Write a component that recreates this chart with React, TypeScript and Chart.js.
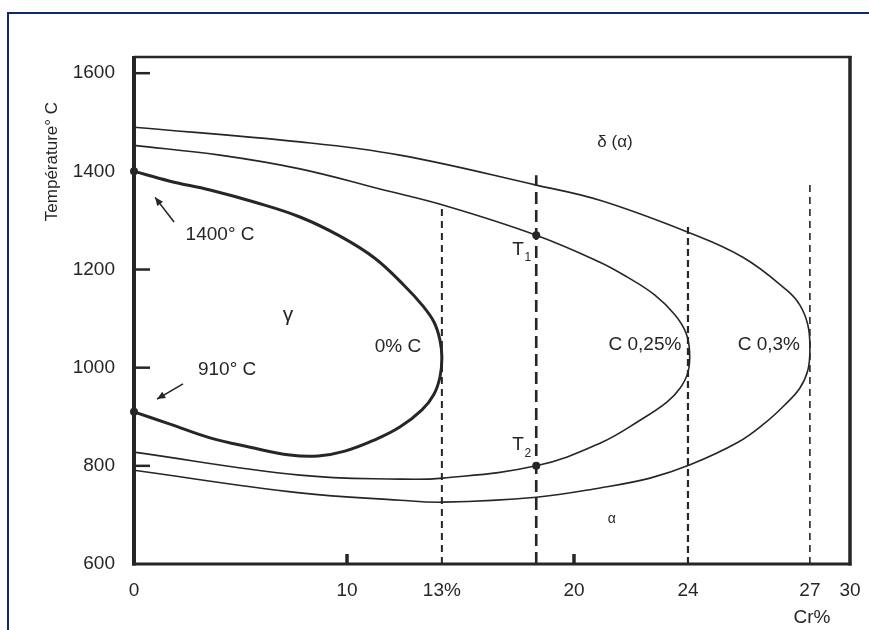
import React, { useEffect, useRef } from 'react';
import { Chart, LinearScale, registerables } from 'chart.js';

Chart.register(...registerables);

// ---- axis ticks -------------------------------------------------------------
// The Cr axis of this schematic is not to scale: labelled compositions are
// spaced by hand, so the scale below maps values piecewise between them.
const CR_TICKS = [0, 10, 13, 20, 24, 27, 30];
const CR_TICK_LABELS = ['0', '10', '13%', '20', '24', '27', '30'];
const TEMP_TICKS = [600, 800, 1000, 1200, 1400, 1600];
const TEMP_MARKED_TICKS = [800, 1000, 1200, 1600];
const CR_MARKED_TICKS = [10, 20];

// ---- phase boundaries (Cr %, temperature °C) --------------------------------
// gamma loop of pure Fe-Cr (0 % C): upper branch, nose at 13 % Cr, lower branch
const LOOP_0C_CR = [0, 1.69, 3.57, 5.68, 7.79, 9.67, 10.88, 11.83, 12.37, 12.75, 12.94, 13, 12.94, 12.75, 12.37, 11.67, 10.88, 9.9, 8.64, 7.32, 5.45, 3.57, 1.69, 0];
const LOOP_0C_T = [1400, 1380, 1362, 1337, 1307, 1268, 1223, 1166, 1128, 1093, 1056, 1020, 981, 946, 914, 879, 853, 830, 820, 822, 838, 857, 885, 910];

// 0.25 % C: nose at 24 % Cr
const LOOP_025C_CR = [0, 4.04, 7.79, 11.04, 13.27, 18, 20.91, 21.86, 22.84, 23.54, 23.93, 24.04, 24, 23.72, 23.26, 22.32, 20.91, 18, 13.05, 11.67, 7.79, 0];
const LOOP_025C_T = [1453, 1433, 1405, 1364, 1329, 1270, 1215, 1185, 1148, 1108, 1071, 1032, 991, 958, 930, 893, 846, 800, 775, 773, 781, 828];

// 0.3 % C: nose at 27 % Cr
const LOOP_03C_CR = [0, 7.79, 11.67, 18, 20.91, 24, 25.35, 26.43, 26.75, 26.95, 27, 26.95, 26.75, 26.38, 25.89, 25.23, 24.05, 22.67, 20.91, 18, 13.05, 11.67, 7.79, 0];
const LOOP_03C_T = [1490, 1460, 1433, 1372, 1341, 1276, 1225, 1158, 1128, 1087, 1040, 995, 958, 924, 887, 848, 802, 775, 755, 736, 726, 730, 745, 791];

// vertical composition lines: Cr % and the temperature where each starts
const GUIDE_CR = [13, 18, 24, 27];
const GUIDE_TOP_T = [1327, 1392, 1294, 1376];

// marked points: 1400 °C and 910 °C on pure iron, T1 and T2 at 18 % Cr
const POINT_CR = [0, 0, 18, 18];
const POINT_T = [1400, 910, 1270, 800];

const INK = '#262626';
const FONT = '"Liberation Sans", Arial, sans-serif';

// relative position of each Cr tick along the axis
const CR_AXIS_FRACTIONS = [0, 0.2975, 0.43, 0.6145, 0.7737, 0.944, 1];

function crToDecimal(v: number) {
  const n = CR_TICKS.length;
  let i = 0;
  while (i < n - 2 && v > CR_TICKS[i + 1]) i++;
  const t = (v - CR_TICKS[i]) / (CR_TICKS[i + 1] - CR_TICKS[i]);
  return CR_AXIS_FRACTIONS[i] + t * (CR_AXIS_FRACTIONS[i + 1] - CR_AXIS_FRACTIONS[i]);
}

function decimalToCr(d: number) {
  const n = CR_AXIS_FRACTIONS.length;
  let i = 0;
  while (i < n - 2 && d > CR_AXIS_FRACTIONS[i + 1]) i++;
  const t = (d - CR_AXIS_FRACTIONS[i]) / (CR_AXIS_FRACTIONS[i + 1] - CR_AXIS_FRACTIONS[i]);
  return CR_TICKS[i] + t * (CR_TICKS[i + 1] - CR_TICKS[i]);
}

class PiecewiseCrScale extends LinearScale {
  static id = 'piecewiseCr';
  static defaults = { ...(LinearScale as any).defaults };
  getPixelForValue(value: number) {
    if (value === null || value === undefined || isNaN(value)) return NaN;
    return (this as any).getPixelForDecimal(crToDecimal(value));
  }
  getValueForPixel(pixel: number) {
    return decimalToCr((this as any).getDecimalForPixel(pixel));
  }
}
Chart.register(PiecewiseCrScale as any);

const pts = (xs: number[], ys: number[]) => xs.map((x, i) => ({ x, y: ys[i] }));

// text placed in data coordinates
const LABELS = [
  { text: '1400° C', x: 4.04, y: 1270, size: 19 },
  { text: '910° C', x: 4.37, y: 995, size: 19 },
  { text: 'γ', x: 7.23, y: 1107, size: 21 },
  { text: '0% C', x: 11.61, y: 1042, size: 19 },
  { text: 'C 0,25%', x: 22.49, y: 1046, size: 19 },
  { text: 'C 0,3%', x: 25.99, y: 1046, size: 19 },
  { text: 'δ (α)', x: 21.44, y: 1460, size: 17 },
  { text: 'α', x: 21.33, y: 692, size: 14 },
];

const SUB_LABELS = [
  { main: 'T', sub: '1', x: 17.03, y: 1240 },
  { main: 'T', sub: '2', x: 17.03, y: 842 },
];

const ARROWS = [
  { fromX: 1.88, fromY: 1297, toX: 0.99, toY: 1347 },
  { fromX: 2.3, fromY: 967, toX: 1.08, toY: 936 },
];

const diagramPlugin = {
  id: 'diagramDecor',
  afterDatasetsDraw(chart: any) {
    const { ctx, chartArea: a, scales } = chart;
    const x = scales.x;
    const y = scales.y;
    ctx.save();
    ctx.strokeStyle = INK;
    ctx.fillStyle = INK;
    ctx.lineCap = 'butt';

    const seg = (x1: number, y1: number, x2: number, y2: number, w: number) => {
      ctx.lineWidth = w;
      ctx.beginPath();
      ctx.moveTo(x1, y1);
      ctx.lineTo(x2, y2);
      ctx.stroke();
    };

    // plot frame
    seg(a.left, a.top - 1, a.left, a.bottom + 1.5, 4);
    seg(a.left - 2, a.bottom, a.right + 1.5, a.bottom, 3);
    seg(a.left, a.top, a.right + 1.5, a.top, 2.5);
    seg(a.right, a.top - 1, a.right, a.bottom + 1.5, 3.5);

    // inward tick marks
    TEMP_MARKED_TICKS.forEach((t) => {
      const py = y.getPixelForValue(t);
      seg(a.left, py, a.left + 16, py, 2.5);
    });
    CR_MARKED_TICKS.forEach((c) => {
      const px = x.getPixelForValue(c);
      seg(px, a.bottom, px, a.bottom - 10, 3.5);
    });

    // arrows pointing at the two transformation temperatures of pure iron
    ARROWS.forEach((ar) => {
      const x1 = x.getPixelForValue(ar.fromX);
      const y1 = y.getPixelForValue(ar.fromY);
      const x2 = x.getPixelForValue(ar.toX);
      const y2 = y.getPixelForValue(ar.toY);
      seg(x1, y1, x2, y2, 1.6);
      const ang = Math.atan2(y2 - y1, x2 - x1);
      const len = 9;
      const spread = 0.42;
      ctx.beginPath();
      ctx.moveTo(x2, y2);
      ctx.lineTo(x2 - len * Math.cos(ang - spread), y2 - len * Math.sin(ang - spread));
      ctx.lineTo(x2 - len * Math.cos(ang + spread), y2 - len * Math.sin(ang + spread));
      ctx.closePath();
      ctx.fill();
    });

    // region and curve labels
    ctx.textAlign = 'center';
    ctx.textBaseline = 'middle';
    LABELS.forEach((l) => {
      ctx.font = `${l.size}px ${FONT}`;
      ctx.fillText(l.text, x.getPixelForValue(l.x), y.getPixelForValue(l.y));
    });
    SUB_LABELS.forEach((l) => {
      const px = x.getPixelForValue(l.x);
      const py = y.getPixelForValue(l.y);
      ctx.font = `19px ${FONT}`;
      ctx.fillText(l.main, px, py);
      ctx.font = `12px ${FONT}`;
      ctx.fillText(l.sub, px + 10, py + 8);
    });

    // axis titles
    ctx.font = `19px ${FONT}`;
    ctx.fillText('Cr%', x.getPixelForValue(27.15), a.bottom + 54);
    ctx.save();
    ctx.translate(52, y.getPixelForValue(1420));
    ctx.rotate(-Math.PI / 2);
    ctx.font = `17px ${FONT}`;
    ctx.fillText('Température° C', 0, 0);
    ctx.restore();

    ctx.restore();
  },
};

export default function App() {
  const ref = useRef<HTMLCanvasElement>(null);

  useEffect(() => {
    const canvas = ref.current;
    if (!canvas) return;

    const loop = (xs: number[], ys: number[], width: number) => ({
      data: pts(xs, ys),
      showLine: true,
      borderColor: INK,
      borderWidth: width,
      pointRadius: 0,
      tension: 0.4,
      clip: false as any,
    });

    const guideStyles = [
      { dash: [7, 5], width: 2 },
      { dash: [12, 6], width: 2.6 },
      { dash: [7, 4], width: 2.2 },
      { dash: [7, 5], width: 1.6 },
    ];

    const guides = GUIDE_CR.map((c, i) => ({
      data: [{ x: c, y: 600 }, { x: c, y: GUIDE_TOP_T[i] }],
      showLine: true,
      borderColor: INK,
      borderWidth: guideStyles[i].width,
      borderDash: guideStyles[i].dash,
      pointRadius: 0,
      clip: false as any,
    }));

    const chart = new Chart(canvas, {
      type: 'scatter',
      data: {
        datasets: [
          ...guides,
          loop(LOOP_03C_CR, LOOP_03C_T, 1.6),
          loop(LOOP_025C_CR, LOOP_025C_T, 1.6),
          loop(LOOP_0C_CR, LOOP_0C_T, 3),
          {
            data: pts(POINT_CR, POINT_T),
            showLine: false,
            pointRadius: 4,
            pointBackgroundColor: INK,
            pointBorderWidth: 0,
            clip: false as any,
          },
        ] as any,
      },
      options: {
        responsive: false,
        animation: false,
        events: [],
        layout: { padding: { left: 0, top: 57, right: 19, bottom: 0 } },
        plugins: { legend: { display: false }, tooltip: { enabled: false } },
        scales: {
          x: {
            type: 'piecewiseCr' as any,
            min: 0,
            max: 30,
            grid: { display: false, drawTicks: false },
            border: { display: false },
            afterFit: (s: any) => {
              s.height = 66;
              s.paddingLeft = 0;
              s.paddingRight = 0;
            },
            afterBuildTicks: (s: any) => { s.ticks = CR_TICKS.map((v) => ({ value: v })); },
            ticks: {
              autoSkip: false,
              maxRotation: 0,
              padding: 15,
              color: INK,
              font: { family: FONT, size: 19 },
              callback: (v: any) => {
                const i = CR_TICKS.indexOf(Number(v));
                return i >= 0 ? CR_TICK_LABELS[i] : '';
              },
            },
          },
          y: {
            type: 'linear',
            min: 600,
            max: 1633,
            grid: { display: false, drawTicks: false },
            border: { display: false },
            afterFit: (s: any) => {
              s.width = 134;
              s.paddingTop = 0;
              s.paddingBottom = 0;
            },
            afterBuildTicks: (s: any) => { s.ticks = TEMP_TICKS.map((v) => ({ value: v })); },
            ticks: {
              autoSkip: false,
              padding: 19,
              color: INK,
              font: { family: FONT, size: 19 },
              callback: (v: any) => String(v),
            },
          },
        },
      },
      plugins: [diagramPlugin],
    });

    return () => chart.destroy();
  }, []);

  return (
    <div style={{ position: 'absolute', left: 0, top: 0, width: 869, height: 630, background: '#ffffff', overflow: 'hidden' }}>
      <div
        style={{
          position: 'absolute',
          left: 7,
          top: 12,
          right: -4,
          bottom: -4,
          borderLeft: '2px solid #0c2b6e',
          borderTop: '2px solid #0c2b6e',
        }}
      />
      <canvas ref={ref} width={869} height={630} style={{ position: 'absolute', left: 0, top: 0, width: 869, height: 630 }} />
    </div>
  );
}
